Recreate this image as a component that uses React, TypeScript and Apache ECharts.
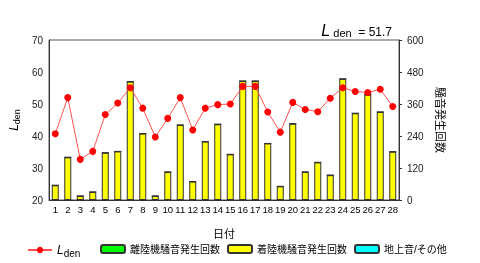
import React, { useEffect, useRef } from "react";
import * as echarts from "echarts";

// 日付 (1〜28日)
const days: string[] = Array.from({ length: 28 }, (_, i) => String(i + 1));

// 日別 Lden (dB)
const ldenValues: number[] = [
  40.7, 52.0, 32.7, 35.2, 46.7, 50.3, 55.1, 48.7, 39.7, 45.5,
  52.0, 41.9, 48.7, 49.8, 50.0, 55.5, 55.5, 47.5, 41.2, 50.5,
  48.3, 47.6, 51.8, 55.1, 53.9, 53.6, 54.6, 49.2,
];

// 離陸機騒音発生回数
const departureCounts: number[] = [
  0, 0, 0, 0, 0, 0, 0, 0, 0, 0,
  0, 0, 0, 0, 0, 0, 0, 0, 0, 0,
  0, 0, 0, 0, 0, 0, 0, 0,
];

// 着陸機騒音発生回数
const arrivalCounts: number[] = [
  55, 160, 15, 30, 177, 182, 444, 249, 15, 105,
  281, 69, 219, 284, 171, 446, 446, 212, 51, 286,
  105, 141, 93, 454, 325, 395, 330, 181,
];

// 地上音/その他
const groundCounts: number[] = [
  0, 0, 0, 0, 0, 0, 0, 0, 0, 0,
  0, 0, 0, 0, 0, 0, 0, 0, 0, 0,
  0, 0, 0, 0, 0, 0, 0, 0,
];

const ldenAverage = "51.7";

const FONT = "'Liberation Sans', 'Noto Sans CJK JP', sans-serif";

export default function App() {
  const ref = useRef<HTMLDivElement>(null);

  useEffect(() => {
    if (!ref.current) return;
    const chart = echarts.init(ref.current, undefined, { renderer: "svg" });

    const barStyle = (color: string) => ({
      color,
      borderColor: "#333",
      borderWidth: 1,
    });

    const legendText = {
      fontSize: 10,
      color: "#000",
      fontFamily: FONT,
    };

    chart.setOption({
      animation: false,
      textStyle: { fontFamily: FONT },
      title: {
        text: "{l|L}{d| den}{v|  = " + ldenAverage + "}",
        right: 83,
        top: 17,
        textStyle: {
          fontWeight: "normal",
          rich: {
            l: { fontSize: 16, fontStyle: "italic", color: "#000", fontFamily: FONT },
            d: { fontSize: 11, color: "#000", fontFamily: FONT, padding: [6, 0, 0, 0] },
            v: { fontSize: 12, color: "#000", fontFamily: FONT, padding: [3, 0, 0, 0] },
          },
        },
      },
      legend: [
        {
          left: 22,
          top: 239,
          itemWidth: 24,
          itemHeight: 8,
          data: ["Lden"],
          formatter: () => "{l|L}{d|den}",
          textStyle: {
            ...legendText,
            rich: {
              l: { fontSize: 12, fontStyle: "italic", color: "#000", fontFamily: FONT },
              d: { fontSize: 10, color: "#000", fontFamily: FONT, padding: [6, 0, 0, 0] },
            },
          },
        },
        {
          left: 95,
          top: 239,
          itemGap: 7,
          itemWidth: 24,
          itemHeight: 8,
          data: ["離陸機騒音発生回数", "着陸機騒音発生回数", "地上音/その他"],
          textStyle: legendText,
        },
      ],
      grid: {
        left: 40,
        right: 81,
        top: 40,
        bottom: 63,
        show: true,
        borderColor: "#555",
        borderWidth: 1,
      },
      xAxis: {
        type: "category",
        data: days,
        name: "日付",
        nameLocation: "middle",
        nameGap: 28,
        nameTextStyle: { fontSize: 11, color: "#000", fontFamily: FONT },
        axisLine: { lineStyle: { color: "#333" } },
        axisTick: { alignWithLabel: true, length: 3, lineStyle: { color: "#333" } },
        axisLabel: { fontSize: 9.5, color: "#000", margin: 5, interval: 0 },
      },
      yAxis: [
        {
          type: "value",
          min: 20,
          max: 70,
          interval: 10,
          name: "{l|L}{d|den}",
          nameLocation: "middle",
          nameGap: 17,
          nameTextStyle: {
            rich: {
              l: { fontSize: 12, fontStyle: "italic", color: "#000", fontFamily: FONT },
              d: { fontSize: 9, color: "#000", fontFamily: FONT, padding: [5, 0, 0, 0] },
            },
          },
          axisLine: { show: true, lineStyle: { color: "#333" } },
          axisTick: { show: false },
          splitLine: { show: false },
          axisLabel: { fontSize: 10, color: "#222", margin: 6 },
        },
        {
          type: "value",
          min: 0,
          max: 600,
          interval: 120,
          name: "騒音発生回数",
          nameLocation: "middle",
          nameGap: 30,
          nameRotate: -90,
          nameTextStyle: { fontSize: 11, color: "#000", fontFamily: FONT },
          axisLine: { show: true, lineStyle: { color: "#333" } },
          axisTick: { show: true, length: 3, lineStyle: { color: "#333" } },
          splitLine: { show: false },
          axisLabel: { fontSize: 10, color: "#222", margin: 8 },
        },
      ],
      series: [
        {
          name: "離陸機騒音発生回数",
          type: "bar",
          yAxisIndex: 1,
          stack: "count",
          barWidth: 7,
          itemStyle: barStyle("#00ff00"),
          data: departureCounts,
        },
        {
          name: "着陸機騒音発生回数",
          type: "bar",
          yAxisIndex: 1,
          stack: "count",
          barWidth: 7,
          itemStyle: barStyle("#ffff00"),
          data: arrivalCounts,
        },
        {
          name: "地上音/その他",
          type: "bar",
          yAxisIndex: 1,
          stack: "count",
          barWidth: 7,
          itemStyle: barStyle("#00ffff"),
          data: groundCounts,
        },
        {
          name: "Lden",
          type: "line",
          yAxisIndex: 0,
          z: 5,
          symbol: "circle",
          symbolSize: 7,
          lineStyle: { color: "#ff5050", width: 1 },
          itemStyle: { color: "#ff0000" },
          data: ldenValues,
        },
      ],
    });

    return () => chart.dispose();
  }, []);

  return (
    <div
      ref={ref}
      style={{ position: "fixed", left: 0, top: 0, width: 480, height: 263 }}
    />
  );
}
